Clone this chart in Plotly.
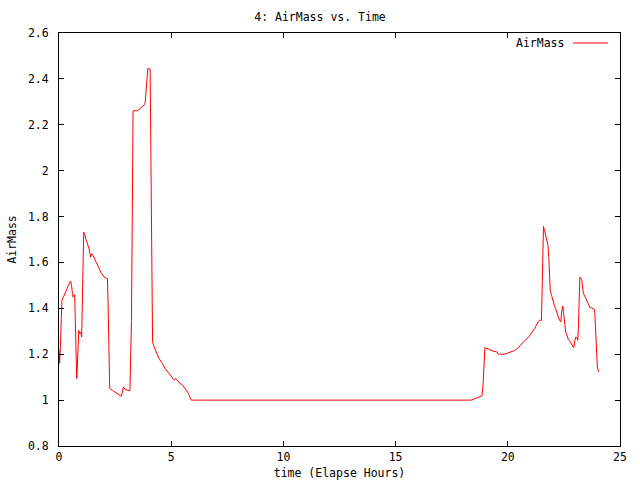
import plotly.graph_objects as go

time_hours = [0.0, 0.03, 0.06, 0.09, 0.13, 0.2, 0.3, 0.4, 0.48, 0.52,
              0.56, 0.6, 0.63, 0.67, 0.7, 0.72, 0.75, 0.79, 0.82, 0.84,
              0.88, 0.92, 0.97, 1.01, 1.03, 1.07, 1.1, 1.15, 1.19, 1.27,
              1.34, 1.41, 1.46, 1.52, 1.61, 1.71, 1.86, 2.01, 2.16, 2.19,
              2.23, 2.26, 2.38, 2.53, 2.68, 2.77, 2.83, 2.87, 2.95, 3.05,
              3.16, 3.23, 3.27, 3.3, 3.5, 3.65, 3.8, 3.84, 3.87, 3.91,
              3.96, 4.06, 4.09, 4.12, 4.17, 4.24, 4.32, 4.46, 4.61, 4.76,
              4.91, 5.06, 5.13, 5.21, 5.28, 5.36, 5.51, 5.66, 5.77, 5.83,
              5.89, 18.38, 18.6, 18.85, 18.9, 18.94, 18.98, 19.2, 19.35, 19.52,
              19.58, 19.85, 20.0, 20.14, 20.3, 20.43, 20.52, 20.6, 20.7, 20.9,
              21.05, 21.2, 21.35, 21.42, 21.5, 21.53, 21.56, 21.59, 21.64, 21.68,
              21.74, 21.79, 21.83, 21.86, 21.89, 21.95, 22.01, 22.07, 22.13, 22.19,
              22.25, 22.31, 22.36, 22.4, 22.45, 22.49, 22.54, 22.58, 22.63, 22.7,
              22.78, 22.85, 22.94, 22.99, 23.03, 23.09, 23.12, 23.15, 23.18, 23.21,
              23.26, 23.3, 23.33, 23.37, 23.45, 23.52, 23.6, 23.67, 23.72, 23.82,
              23.87, 23.9, 23.94, 23.99, 24.05]

airmass = [1.22, 1.16, 1.23, 1.36, 1.435, 1.45, 1.475, 1.5, 1.514, 1.519,
           1.5, 1.464, 1.449, 1.457, 1.459, 1.37, 1.188, 1.094, 1.152, 1.254,
           1.304, 1.29, 1.297, 1.275, 1.384, 1.616, 1.732, 1.725, 1.703, 1.681,
           1.659, 1.623, 1.638, 1.63, 1.609, 1.587, 1.558, 1.536, 1.529, 1.406,
           1.167, 1.051, 1.043, 1.032, 1.022, 1.017, 1.036, 1.058, 1.046, 1.043,
           1.041, 1.348, 1.949, 2.261, 2.261, 2.275, 2.287, 2.297, 2.333, 2.406,
           2.446, 2.442, 2.145, 1.558, 1.254, 1.232, 1.21, 1.181, 1.159, 1.133,
           1.116, 1.094, 1.087, 1.094, 1.087, 1.075, 1.065, 1.046, 1.029, 1.014,
           1.0, 1.0, 1.008, 1.019, 1.072, 1.174, 1.229, 1.22, 1.213, 1.21,
           1.2, 1.2, 1.206, 1.21, 1.216, 1.225, 1.235, 1.239, 1.254, 1.272,
           1.29, 1.312, 1.341, 1.348, 1.348, 1.449, 1.652, 1.757, 1.739, 1.717,
           1.696, 1.674, 1.616, 1.529, 1.478, 1.457, 1.428, 1.413, 1.399, 1.377,
           1.362, 1.348, 1.341, 1.384, 1.41, 1.377, 1.333, 1.297, 1.283, 1.264,
           1.254, 1.242, 1.229, 1.261, 1.275, 1.272, 1.261, 1.326, 1.464, 1.536,
           1.529, 1.522, 1.493, 1.464, 1.449, 1.435, 1.42, 1.403, 1.403, 1.399,
           1.395, 1.333, 1.217, 1.145, 1.123]

FONT = "DejaVu Sans Mono"
FS = 11.5

# plot-area geometry in pixels (left, right, top, bottom)
L, R, T, B = 59, 620, 33, 446
W, H = 640, 480

fig = go.Figure()
fig.add_trace(go.Scatter(x=time_hours, y=airmass, mode="lines",
                         line=dict(color="#ff0000", width=1),
                         name="AirMass", showlegend=False))

axis_common = dict(showgrid=False, zeroline=False, showline=True,
                   linecolor="black", linewidth=1, mirror="allticks",
                   ticks="inside", ticklen=5, tickcolor="black",
                   automargin=False,
                   tickfont=dict(family=FONT, size=FS, color="black"))

fig.update_xaxes(range=[0, 25], dtick=5, tick0=0,
                 title=dict(text="time (Elapse Hours)", standoff=6,
                            font=dict(family=FONT, size=FS, color="black")),
                 **axis_common)
fig.update_yaxes(range=[0.8, 2.6], dtick=0.2, tick0=0.8, ticklabelstandoff=7,
                 title=dict(text="AirMass", standoff=8,
                            font=dict(family=FONT, size=FS, color="black")),
                 **axis_common)

# legend key (gnuplot style: text left of sample line)
ly = 1 - (43 - T) / (B - T)
fig.add_annotation(xref="paper", yref="paper", x=(566 - L) / (R - L), y=ly,
                   xanchor="right", yanchor="middle", text="AirMass", showarrow=False,
                   font=dict(family=FONT, size=FS, color="black"))
fig.add_shape(type="line", xref="paper", yref="paper",
              x0=(573 - L) / (R - L), x1=(608 - L) / (R - L),
              y0=ly, y1=ly, line=dict(color="#ff0000", width=1))

fig.update_layout(
    width=W, height=H,
    margin=dict(l=L, r=W - R, t=T, b=H - B),
    paper_bgcolor="white", plot_bgcolor="white",
    title=dict(text="4: AirMass vs. Time", x=0.5, xanchor="center",
               y=1 - 17 / H, yanchor="middle",
               font=dict(family=FONT, size=FS, color="black")),
    font=dict(family=FONT, size=FS, color="black"),
)

fig.write_html("out.html", config={"displayModeBar": False},
               post_script="document.body.style.margin='0';")
